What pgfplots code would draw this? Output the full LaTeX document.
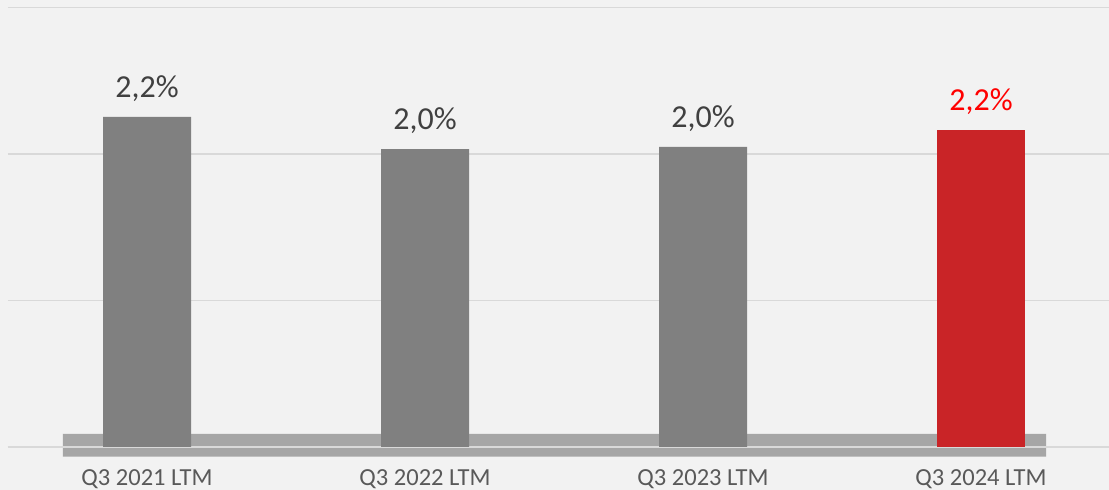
\documentclass[border=0pt]{standalone}
\usepackage{fontspec}
\setmainfont{Carlito}
\usepackage{pgfplots}
\usepackage{pgfplotstable}
\pgfplotsset{compat=1.18}
\definecolor{bg}{HTML}{F2F2F2}
\definecolor{gridc}{HTML}{D9D9D9}
\definecolor{bandc}{HTML}{A6A6A6}
\definecolor{barg}{HTML}{808080}
\definecolor{barr}{HTML}{C92427}
\definecolor{tickc}{HTML}{595959}
\definecolor{valc}{HTML}{404040}
\pgfplotstableread{
x y lab
0 2.2526 {2,2\%}
1 2.034 {2,0\%}
2 2.048 {2,0\%}
}\greytab
\pgfplotstableread{
x y lab
3 2.164 {2,2\%}
}\redtab
\begin{document}
\begin{tikzpicture}
\fill[bg] (0pt,0pt) rectangle (554.5pt,245pt);
\begin{axis}[
  at={(4pt,21.5pt)}, anchor=south west,
  scale only axis, width=550.5pt, height=219.75pt,
  xmin=-0.5, xmax=3.4604, ymin=0, ymax=3,
  clip=false,
  axis line style={draw=none}, tick style={draw=none},
  ytick={0,1,2,3}, yticklabels={},
  ymajorgrids, grid style={color=gridc, line width=0.75pt},
  xtick={0,1,2,3},
  xticklabels={Q3 2021 LTM, Q3 2022 LTM, Q3 2023 LTM, Q3 2024 LTM},
  xticklabel style={font=\fontsize{12.25}{14}\selectfont, text=tickc, anchor=base, yshift=-19.5pt},
]
\addplot[fill=bandc, draw=none, forget plot]
  coordinates {(-0.3022,-0.0662) (3.2338,-0.0662) (3.2338,0.0887) (-0.3022,0.0887) (-0.3022,-0.0662)};
\addplot[gridc, line width=0.75pt, forget plot]
  coordinates {(-0.5,0) (3.4604,0)};
\addplot[ybar, bar width=44pt, bar shift=0pt, fill=barg, draw=none,
  point meta=explicit symbolic, nodes near coords,
  nodes near coords style={font=\fontsize{16}{19}\selectfont, text=valc, anchor=base, yshift=9.75pt}]
  table[x=x, y=y, meta=lab] {\greytab};
\addplot[ybar, bar width=44pt, bar shift=0pt, fill=barr, draw=none,
  point meta=explicit symbolic, nodes near coords,
  nodes near coords style={font=\fontsize{16}{19}\selectfont, text=red, anchor=base, yshift=9.75pt}]
  table[x=x, y=y, meta=lab] {\redtab};
\end{axis}
\pgfresetboundingbox
\path (0pt,0pt) rectangle (554.5pt,245pt);
\end{tikzpicture}
\end{document}
